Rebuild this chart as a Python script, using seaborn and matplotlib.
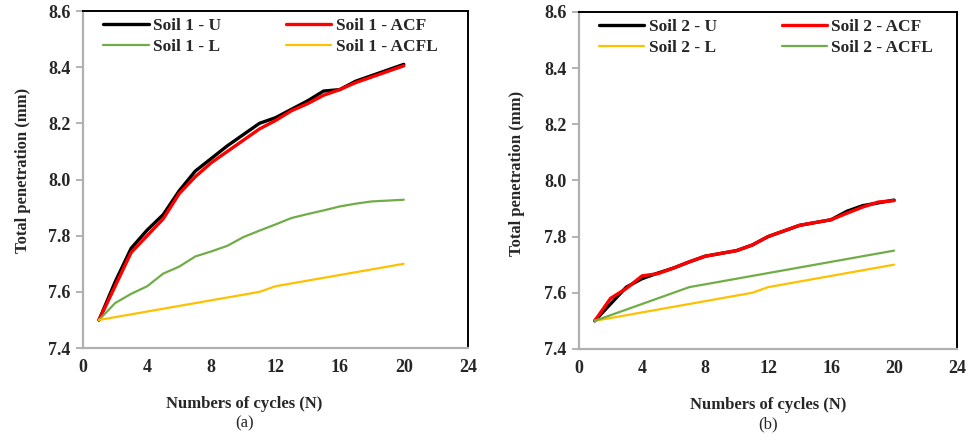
import numpy as np
import pandas as pd
import seaborn as sns
import matplotlib
matplotlib.use("Agg")
import matplotlib.pyplot as plt

# Load cycles
cycles = list(range(1, 21))

# Soil 1 total penetration (mm)
soil1_u = [7.50, 7.635, 7.755, 7.82, 7.875, 7.96, 8.03, 8.075, 8.12, 8.16,
           8.20, 8.22, 8.25, 8.28, 8.315, 8.32, 8.35, 8.37, 8.39, 8.41]
soil1_acf = [7.50, 7.62, 7.74, 7.80, 7.86, 7.95, 8.01, 8.06, 8.10, 8.14,
             8.18, 8.21, 8.245, 8.27, 8.30, 8.32, 8.345, 8.365, 8.385, 8.405]
soil1_l = [7.50, 7.56, 7.593, 7.62, 7.665, 7.69, 7.726, 7.744, 7.764, 7.795,
           7.818, 7.84, 7.863, 7.877, 7.89, 7.904, 7.914, 7.922, 7.925, 7.928]
soil1_acfl = [7.50, 7.51, 7.52, 7.53, 7.54, 7.55, 7.56, 7.57, 7.58, 7.59,
              7.60, 7.62, 7.63, 7.64, 7.65, 7.66, 7.67, 7.68, 7.69, 7.70]

# Soil 2 total penetration (mm)
soil2_u = [7.50, 7.56, 7.62, 7.65, 7.67, 7.688, 7.71, 7.73, 7.74, 7.75,
           7.77, 7.80, 7.82, 7.84, 7.85, 7.86, 7.89, 7.91, 7.92, 7.93]
soil2_acf = [7.50, 7.58, 7.615, 7.66, 7.668, 7.688, 7.71, 7.73, 7.74, 7.75,
             7.77, 7.80, 7.82, 7.84, 7.85, 7.86, 7.883, 7.905, 7.923, 7.928]
soil2_l = [7.50, 7.51, 7.52, 7.53, 7.54, 7.55, 7.56, 7.57, 7.58, 7.59,
           7.60, 7.62, 7.63, 7.64, 7.65, 7.66, 7.67, 7.68, 7.69, 7.70]
soil2_acfl = [7.50, 7.52, 7.54, 7.56, 7.58, 7.60, 7.62, 7.63, 7.64, 7.65,
              7.66, 7.67, 7.68, 7.69, 7.70, 7.71, 7.72, 7.73, 7.74, 7.75]

x_ticks = [0, 4, 8, 12, 16, 20, 24]
y_ticks = [7.4, 7.6, 7.8, 8.0, 8.2, 8.4, 8.6]

BLACK = "#000000"
RED = "#FF0000"
GREEN = "#70AD47"
YELLOW = "#FFC000"

sns.set_theme(style="white")
plt.rcParams["font.family"] = ["Liberation Serif", "DejaVu Serif"]
plt.rcParams["font.weight"] = "bold"

fig = plt.figure(figsize=(9.72, 4.4), dpi=100)
ax1 = fig.add_axes([0.0854, 0.209, 0.396, 0.766])
ax2 = fig.add_axes([0.5957, 0.207, 0.389, 0.766])

panels = [
    (ax1, "(a)", 0.42, (-0.134, 0.528), [
        ("Soil 1 - U", soil1_u, BLACK, 2.4),
        ("Soil 1 - ACF", soil1_acf, RED, 2.4),
        ("Soil 1 - L", soil1_l, GREEN, 1.6),
        ("Soil 1 - ACFL", soil1_acfl, YELLOW, 1.6),
    ]),
    (ax2, "(b)", 0.50, (-0.144, 0.52), [
        ("Soil 2 - U", soil2_u, BLACK, 2.4),
        ("Soil 2 - ACF", soil2_acf, RED, 2.4),
        ("Soil 2 - L", soil2_l, YELLOW, 1.6),
        ("Soil 2 - ACFL", soil2_acfl, GREEN, 1.6),
    ]),
]

for ax, tag, xlab_pos, ylab_xy, series in panels:
    for name, vals, color, lw in series:
        df = pd.DataFrame({"N": cycles, "P": vals})
        sns.lineplot(data=df, x="N", y="P", ax=ax, color=color,
                     linewidth=lw, label=name)
    ax.set_xlim(0, 24)
    ax.set_ylim(7.4, 8.6)
    ax.set_xticks(x_ticks)
    ax.set_yticks(y_ticks)
    ax.set_xticklabels([str(t) for t in x_ticks], fontsize=13, fontweight="bold")
    ax.set_yticklabels([f"{t:.1f}" for t in y_ticks], fontsize=13, fontweight="bold")
    ax.tick_params(axis="y", which="major", direction="out", length=5,
                   width=1.2, color="#A6A6A6", pad=4, left=True)
    ax.tick_params(axis="x", which="major", length=0, pad=8, bottom=True)
    for side in ("left", "bottom"):
        ax.spines[side].set_color("#B0B0B0")
        ax.spines[side].set_linewidth(1.6)
    for side in ("top", "right"):
        ax.spines[side].set_color("#000000")
        ax.spines[side].set_linewidth(1.4)
    ax.set_xlabel("Numbers of cycles (N)", fontsize=12, fontweight="bold")
    ax.xaxis.set_label_coords(xlab_pos, -0.143)
    ax.set_ylabel("Total penetration (mm)", fontsize=12, fontweight="bold")
    ax.yaxis.set_label_coords(*ylab_xy)
    ax.text(xlab_pos, -0.2, tag, transform=ax.transAxes, ha="center", va="top",
            fontsize=12, fontweight="normal")

    # two rows: (U, ACF) on top, the other pair below; legend fills by column
    handles, labels = ax.get_legend_handles_labels()
    order = [0, 2, 1, 3]
    ax.legend([handles[i] for i in order], [labels[i] for i in order],
              loc="upper left", ncol=2, frameon=False,
              prop={"weight": "bold", "size": 12.5}, handlelength=2.6,
              handletextpad=0.25, columnspacing=3.75, labelspacing=0.3,
              borderaxespad=0.0, bbox_to_anchor=(0.035, 1.0))

fig.savefig("out.png", dpi=100, facecolor="white")
